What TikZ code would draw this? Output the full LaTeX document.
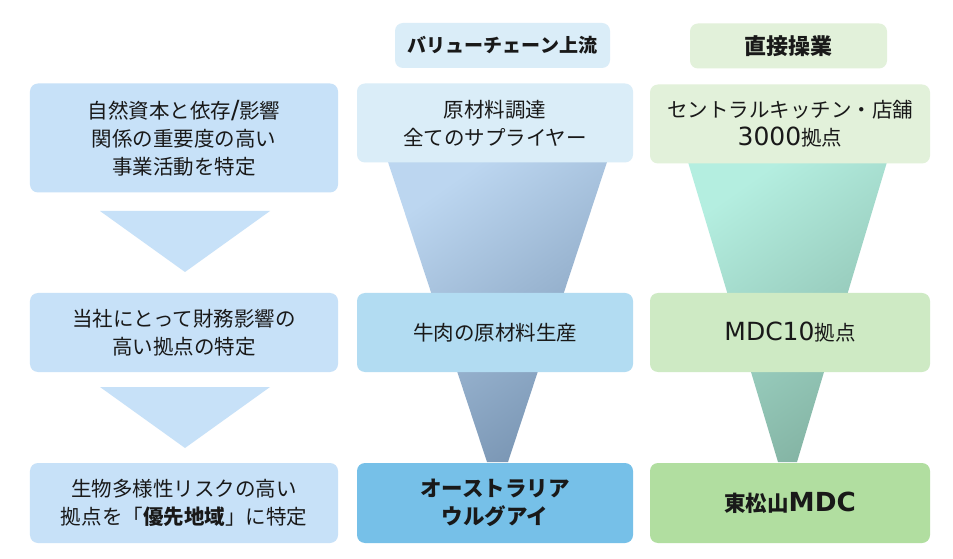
\documentclass[tikz,border=0pt]{standalone}
\usepackage{fontspec}
\setmainfont{Noto Sans CJK JP}
\newfontfamily\lat{DejaVu Sans}[Scale=1.22]
\definecolor{leftbox}{RGB}{199,225,248}
\definecolor{midpale}{RGB}{218,237,248}
\definecolor{midmid}{RGB}{178,220,242}
\definecolor{middark}{RGB}{118,192,232}
\definecolor{rightpale}{RGB}{226,241,218}
\definecolor{rightmid}{RGB}{206,234,196}
\definecolor{rightdark}{RGB}{177,222,160}
\definecolor{funAlight}{RGB}{188,214,240}
\definecolor{funAdark}{RGB}{122,150,180}
\definecolor{funBlight}{RGB}{180,238,224}
\definecolor{funBdark}{RGB}{132,180,164}
\definecolor{txt}{RGB}{25,25,25}
\tikzset{
  box/.style={rounded corners=8bp, inner sep=0pt, align=center, text=txt,
    font=\fontsize{20.5bp}{28bp}\selectfont},
  leftstep/.style={box, fill=leftbox, minimum width=308bp},
  midstep/.style={box, minimum width=276bp, minimum height=79bp},
  rightstep/.style={box, minimum width=280bp, minimum height=79bp},
  header/.style={box, minimum height=45bp},
  boldtxt/.style={font=\fontsize{21.5bp}{28bp}\selectfont\bfseries},
}
\begin{document}
\begin{tikzpicture}[x=1bp, y=-1bp]
\useasboundingbox (0,0) rectangle (953,559);
\fill[white] (0,0) rectangle (953,559);
% funnels (behind)
\shade[top color=funAlight, bottom color=funAdark, shading angle=35]
  (388,162) -- (607,162) -- (508,462) -- (487,462) -- cycle;
\shade[top color=funBlight, bottom color=funBdark, shading angle=35]
  (688,162) -- (887,162) -- (797,462) -- (778,462) -- cycle;
% left arrows
\fill[leftbox] (100,211) -- (270,211) -- (185,272) -- cycle;
\fill[leftbox] (100,387) -- (270,387) -- (185,448) -- cycle;
% left column
\node[leftstep, minimum height=109bp] (l1) at (184,138) {自然資本と依存{\lat /}影響\\関係の重要度の高い\\事業活動を特定};
\node[leftstep, minimum height=79bp] (l2) at (184,332.5) {当社にとって財務影響の\\高い拠点の特定};
\node[leftstep, minimum height=80bp] (l3) at (184,503) {生物多様性リスクの高い\\拠点を「\textbf{優先地域}」に特定};
% middle column
\node[header, fill=midpale, minimum width=215bp, font=\fontsize{19bp}{24bp}\selectfont\bfseries] (mh) at (502.5,45.5) {バリューチェーン上流};
\node[midstep, fill=midpale] (m1) at (495,123) {原材料調達\\全てのサプライヤー};
\node[midstep, fill=midmid] (m2) at (495,332.5) {牛肉の原材料生産};
\node[midstep, fill=middark, minimum height=80bp, boldtxt] (m3) at (495,503) {オーストラリア\\ウルグアイ};
% right column
\node[header, fill=rightpale, minimum width=197bp, font=\fontsize{22bp}{24bp}\selectfont\bfseries] (rh) at (788.5,46) {直接操業};
\node[rightstep, fill=rightpale] (r1) at (790,124) {セントラルキッチン・店舗\\{\lat 3000}拠点};
\node[rightstep, fill=rightmid] (r2) at (790,332.5) {{\lat MDC10}拠点};
\node[rightstep, fill=rightdark, minimum height=80bp, boldtxt] (r3) at (790,503) {東松山{\lat MDC}};
\end{tikzpicture}
\end{document}
